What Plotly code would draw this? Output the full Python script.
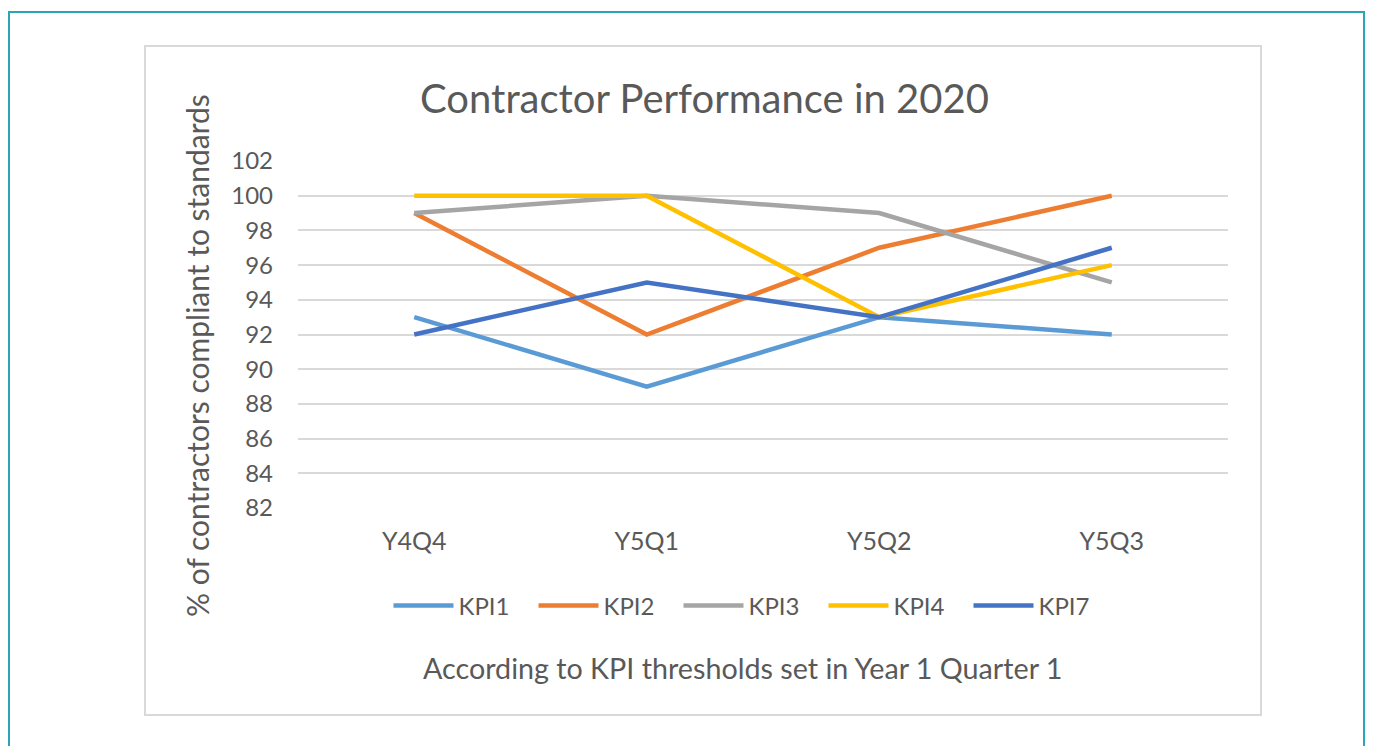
import plotly.graph_objects as go

# Quarters and KPI values
quarters = ["Y4Q4", "Y5Q1", "Y5Q2", "Y5Q3"]
kpi1 = [93, 89, 93, 92]
kpi2 = [99, 92, 97, 100]
kpi3 = [99, 100, 99, 95]
kpi4 = [100, 100, 93, 96]
kpi7 = [92, 95, 93, 97]

series = [
    ("KPI1", kpi1, "#5B9BD5"),
    ("KPI2", kpi2, "#ED7D31"),
    ("KPI3", kpi3, "#A5A5A5"),
    ("KPI4", kpi4, "#FFC000"),
    ("KPI7", kpi7, "#4472C4"),
]

OFF = 8  # page body margin
W, H = 1373 - 2 * OFF, 754 - 2 * OFF  # keep page free of scrollbars
# plot area in screen pixels
SL, SR, ST, SB = 298, 1228, 161, 508
FONT = "Lato"
GREY = "#595959"


# screen pixel -> paper coords
def px(x):
    return (x - SL) / (SR - SL)


def py(y):
    return (SB - y) / (SB - ST)


fig = go.Figure()

for name, vals, col in series:
    fig.add_trace(go.Scatter(
        x=quarters, y=vals, name=name, mode="lines",
        line=dict(color=col, width=4.5),
    ))

fig.update_layout(
    width=W, height=H,
    margin=dict(l=SL - OFF, r=W - (SR - OFF), t=ST - OFF, b=H - (SB - OFF)),
    paper_bgcolor="white", plot_bgcolor="white",
    font=dict(family=FONT, color=GREY),
    showlegend=True,
    legend=dict(
        orientation="h", x=px(751), y=py(606), xanchor="center", yanchor="middle",
        font=dict(size=24, color=GREY), itemwidth=60, entrywidth=70, tracegroupgap=0,
    ),
    xaxis=dict(
        type="category", range=[-0.5, 3.5], showgrid=False, showline=False,
        ticks="", tickfont=dict(size=25, color=GREY), ticklabelstandoff=16,
        zeroline=False,
    ),
    yaxis=dict(
        range=[82, 102], dtick=2, showgrid=True, gridcolor="#d9d9d9", gridwidth=1.5,
        zeroline=False, showline=False, ticks="",
        tickfont=dict(size=24, color=GREY), ticklabelstandoff=24,
    ),
    shapes=[
        # outer teal frame
        dict(type="rect", xref="paper", yref="paper",
             x0=px(9), x1=px(OFF + W - 1), y0=py(800), y1=py(12),
             line=dict(color="#2aa5b8", width=2), layer="below"),
        # chart area box
        dict(type="rect", xref="paper", yref="paper",
             x0=px(145), x1=px(1261), y0=py(715), y1=py(46),
             line=dict(color="#d9d9d9", width=2), layer="below"),
    ],
    annotations=[
        dict(text="Contractor Performance in 2020", xref="paper", yref="paper",
             x=px(704), y=py(98), xanchor="center", yanchor="middle",
             showarrow=False, font=dict(size=40, color=GREY)),
        dict(text="% of contractors compliant to standards", xref="paper", yref="paper",
             x=px(197), y=py(356), xanchor="center", yanchor="middle", textangle=-90,
             showarrow=False, font=dict(size=30, color=GREY)),
        dict(text="According to KPI thresholds set in Year 1 Quarter 1", xref="paper", yref="paper",
             x=px(742), y=py(668), xanchor="center", yanchor="middle",
             showarrow=False, font=dict(size=28.7, color=GREY)),
    ],
)

fig.write_html("out.html")
